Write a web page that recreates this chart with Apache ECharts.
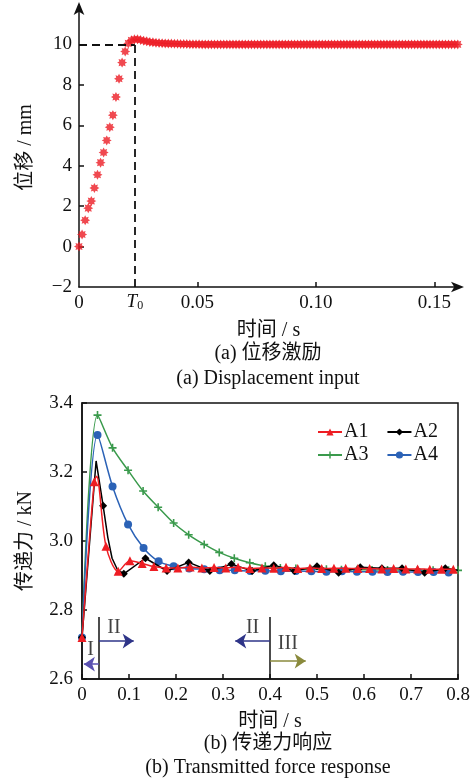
<!DOCTYPE html>
<html>
<head>
<meta charset="utf-8">
<script src="https://cdn.jsdelivr.net/npm/echarts@6/dist/echarts.min.js"></script>
<style>
html,body{margin:0;padding:0;background:#fff;}
#c{width:474px;height:779px;}
</style>
</head>
<body>
<div id="c"></div>
<script>
// ---- (a) displacement input ----
const dispTime = [0,0.0013,0.0026,0.0039,0.0052,0.0065,0.0078,0.0091,0.0104,0.0117,0.013,0.0143,0.0156,0.0169,0.0182,0.0195,
0.0208,0.0221,0.0234,0.0247,0.026,0.0273,0.0286,0.0299,0.0312,0.0325,0.0338,0.0351,0.0364,0.0377,0.039,0.0403,0.0416,0.0429,0.0442,0.0455,
0.0468,0.0481,0.0494,0.0507,0.052,0.0533,0.0546,0.0559,0.0572,0.0585,0.0598,0.0611,0.0624,0.0637,0.065,0.0663,0.0676,0.0689,0.0702,0.0715,
0.0728,0.0741,0.0754,0.0767,0.078,0.0793,0.0806,0.0819,0.0832,0.0845,0.0858,0.0871,0.0884,0.0897,0.091,0.0923,0.0936,0.0949,0.0962,0.0975,
0.0988,0.1001,0.1014,0.1027,0.104,0.1053,0.1066,0.1079,0.1092,0.1105,0.1118,0.1131,0.1144,0.1157,0.117,0.1183,0.1196,0.1209,0.1222,0.1235,
0.1248,0.1261,0.1274,0.1287,0.13,0.1313,0.1326,0.1339,0.1352,0.1365,0.1378,0.1391,0.1404,0.1417,0.143,0.1443,0.1456,0.1469,0.1482,0.1495,
0.1508,0.1521,0.1534,0.1547,0.156,0.1573,0.1586,0.1599];
const dispValue = [0,0.6,1.3,1.9,2.25,2.9,3.55,4.15,4.65,5.25,5.9,6.5,7.4,8.3,9.1,9.65,
10.05,10.2,10.25,10.25,10.22,10.18,10.15,10.12,10.1,10.08,10.07,10.06,10.05,10.04,10.04,10.03,10.03,10.02,10.02,10.02,
10.01,10.01,10.01,10.01,10,10,10,10,10,10,10,10,10,10,10,10,10,10,10,10,
10,10,10,10,10,10,10,10,10,10,10,10,10,10,10,10,10,10,10,10,
10,10,10,10,10,10,10,10,10,10,10,10,10,10,10,10,10,10,10,10,
10,10,10,10,10,10,10,10,10,10,10,10,10,10,10,10,10,10,10,10,
10,10,10,10,10,10,10,10];
const T0 = 0.0236;
const dispXTicks = [0,0.05,0.10,0.15];
const dispYTicks = [-2,0,2,4,6,8,10];

// ---- (b) transmitted force response ----
const a1Time  = [0,0.026,0.031,0.051,0.077,0.102,0.128,0.153,0.179,0.204,0.230,0.255,0.281,0.306,0.332,0.357,0.383,0.408,0.434,0.459,0.485,0.510,0.536,0.561,0.587,0.612,0.638,0.663,0.689,0.714,0.740,0.765,0.790];
const a1Force = [2.72,3.172,3.188,2.985,2.912,2.943,2.935,2.926,2.922,2.922,2.925,2.922,2.923,2.922,2.924,2.920,2.922,2.921,2.924,2.920,2.922,2.920,2.921,2.921,2.920,2.920,2.919,2.920,2.919,2.919,2.918,2.918,2.918];
const a1Mark  = [1,1,0,1,1,1,1,1,1,1,1,1,1,1,1,1,1,1,1,1,1,1,1,1,1,1,1,1,1,1,1,1,1];

const a2Time  = [0,0.030,0.045,0.055,0.064,0.075,0.089,0.135,0.181,0.227,0.272,0.318,0.362,0.408,0.452,0.500,0.546,0.592,0.638,0.681,0.729,0.773,0.800];
const a2Force = [2.72,3.232,3.102,3.010,2.950,2.918,2.905,2.950,2.913,2.938,2.913,2.933,2.913,2.930,2.913,2.927,2.908,2.924,2.921,2.921,2.908,2.921,2.915];
const a2Mark  = [1,0,1,0,0,0,1,1,1,1,1,1,1,1,1,1,1,1,1,1,1,1,0];

const a3Time  = [0,0.033,0.065,0.098,0.130,0.162,0.195,0.227,0.260,0.292,0.324,0.357,0.390,0.422,0.455,0.487,0.520,0.552,0.585,0.617,0.650,0.682,0.714,0.747,0.780,0.800];
const a3Force = [2.72,3.365,3.270,3.205,3.145,3.098,3.052,3.018,2.990,2.967,2.950,2.937,2.927,2.922,2.920,2.918,2.918,2.917,2.917,2.916,2.916,2.916,2.915,2.915,2.915,2.915];

const a4Time  = [0,0.033,0.065,0.098,0.131,0.163,0.195,0.228,0.260,0.293,0.325,0.358,0.390,0.423,0.455,0.488,0.520,0.553,0.585,0.618,0.650,0.683,0.715,0.748,0.780];
const a4Force = [2.72,3.307,3.158,3.048,2.980,2.941,2.927,2.920,2.918,2.915,2.915,2.913,2.914,2.912,2.913,2.912,2.911,2.912,2.911,2.911,2.910,2.911,2.910,2.910,2.909];

const seriesNames = ['A1','A2','A3','A4'];

// stage annotations (data coordinates)
const stageBounds = [0.036, 0.4];
const stageLabels = [
  {name:'I',   t:0.018, v:2.684},
  {name:'II',  t:0.068, v:2.748},
  {name:'II',  t:0.363, v:2.750},
  {name:'III', t:0.438, v:2.703}
];
const stageArrows = [
  {from:[0.036,2.643], to:[0.004,2.643], color:'#5a50b0'},
  {from:[0.036,2.710], to:[0.110,2.710], color:'#2e3488'},
  {from:[0.400,2.710], to:[0.326,2.710], color:'#2e3488'},
  {from:[0.400,2.652], to:[0.476,2.652], color:'#8a8a3c'}
];

const FONT = '"Liberation Serif", "Noto Sans CJK SC", serif';
const starPath = 'path://M10 5 L7.8 6.2 L8.54 8.54 L6.2 7.8 L5 10 L3.8 7.8 L1.46 8.54 L2.2 6.2 L0 5 L2.2 3.8 L1.46 1.46 L3.8 2.2 L5 0 L6.2 2.2 L8.54 1.46 L7.8 3.8 Z';
const plusPath = 'path://M4 0 H6 V4 H10 V6 H6 V10 H4 V6 H0 V4 H4 Z';

const chart = echarts.init(document.getElementById('c'), null, {renderer:'canvas'});

const axisTxt = {color:'#111', fontFamily:FONT, fontSize:19};
const nameTxt = {color:'#111', fontFamily:FONT, fontSize:20};

function mk(times, vals, marks){
  return times.map((t,i)=>{
    const d = {value:[t, vals[i]]};
    if (marks && !marks[i]) d.symbol = 'none';
    return d;
  });
}

const option = {
  animation:false,
  backgroundColor:'#fff',
  grid:[
    {left:79, right:16, top:8, bottom:492, containLabel:false},
    {left:82, right:16, top:403, bottom:100, show:true, borderColor:'#111', borderWidth:1.5, backgroundColor:'transparent'}
  ],
  xAxis:[
    {gridIndex:0, type:'value', min:0, max:0.16,
     name:'时间 / s', nameLocation:'middle', nameGap:34, nameTextStyle:nameTxt,
     axisLine:{show:true, onZero:false, symbol:['none','arrow'], symbolSize:[8,13], symbolOffset:[0,6], lineStyle:{color:'#111', width:1.5}},
     axisTick:{show:true, inside:true, length:5, customValues:[0.05,0.10,0.15], lineStyle:{color:'#111', width:1.5}},
     axisLabel:{customValues:dispXTicks, margin:7, ...axisTxt, formatter:v=> v===0?'0':v.toFixed(2)},
     splitLine:{show:false}},
    {gridIndex:1, type:'value', min:0, max:0.8, interval:0.1,
     name:'时间 / s', nameLocation:'middle', nameGap:33, nameTextStyle:nameTxt,
     axisLine:{show:true, onZero:false, lineStyle:{color:'#111', width:1.5}},
     axisTick:{show:true, inside:true, length:5, lineStyle:{color:'#111', width:1.5}},
     axisLabel:{margin:7, ...axisTxt, formatter:v=> v===0?'0':v.toFixed(1)},
     splitLine:{show:false}}
  ],
  yAxis:[
    {gridIndex:0, type:'value', min:-2, max:11.8,
     name:'位移 / mm', nameLocation:'middle', nameGap:43, nameTextStyle:nameTxt,
     axisLine:{show:true, onZero:false, symbol:['none','arrow'], symbolSize:[8,13], symbolOffset:[0,6], lineStyle:{color:'#111', width:1.5}},
     axisTick:{show:true, inside:true, length:5, customValues:[0,2,4,6,8,10], lineStyle:{color:'#111', width:1.5}},
     axisLabel:{customValues:dispYTicks, margin:7, ...axisTxt, formatter:v=> String(v).replace('-','\u2212')},
     splitLine:{show:false}},
    {gridIndex:1, type:'value', min:2.6, max:3.4, interval:0.2,
     name:'传递力 / kN', nameLocation:'middle', nameGap:46, nameTextStyle:nameTxt,
     axisLine:{show:true, onZero:false, lineStyle:{color:'#111', width:1.5}},
     axisTick:{show:true, inside:true, length:5, lineStyle:{color:'#111', width:1.5}},
     axisLabel:{margin:9, ...axisTxt, formatter:v=> v.toFixed(1)},
     splitLine:{show:false}}
  ],
  legend:[
    {data:[seriesNames[0], seriesNames[1]], left:312, top:417, itemWidth:24, itemHeight:9, itemGap:18,
     textStyle:{color:'#111', fontFamily:FONT, fontSize:20, padding:[0,0,0,-3]}, selectedMode:false},
    {data:[seriesNames[2], seriesNames[3]], left:312, top:440, itemWidth:24, itemHeight:9, itemGap:18,
     textStyle:{color:'#111', fontFamily:FONT, fontSize:20, padding:[0,0,0,-3]}, selectedMode:false}
  ],
  graphic:[
    {type:'text', x:268, y:354, style:{text:'(a) 位移激励', font:'20px '+FONT, fill:'#111', textAlign:'center', textVerticalAlign:'middle'}},
    {type:'text', x:268, y:379, style:{text:'(a) Displacement input', font:'20px '+FONT, fill:'#111', textAlign:'center', textVerticalAlign:'middle'}},
    {type:'text', x:268, y:744, style:{text:'(b) 传递力响应', font:'20px '+FONT, fill:'#111', textAlign:'center', textVerticalAlign:'middle'}},
    {type:'text', x:268, y:768, style:{text:'(b) Transmitted force response', font:'20px '+FONT, fill:'#111', textAlign:'center', textVerticalAlign:'middle'}}
  ],
  series:[
    {type:'scatter', xAxisIndex:0, yAxisIndex:0, name:'disp',
     data:dispTime.map((t,i)=>[t, dispValue[i]]),
     symbol:starPath, symbolSize:10, itemStyle:{color:'#ec1c24'}, clip:false, z:3,
     markLine:{silent:true, symbol:'none', animation:false,
       lineStyle:{color:'#111', type:[8,5], width:1.8},
       label:{show:false},
       data:[
         [{coord:[0,10]},{coord:[T0,10]}],
         [{coord:[T0,-2], label:{show:true, position:'start', distance:3,
             formatter:'{t|T}{s|0}',
             rich:{t:{fontFamily:FONT, fontStyle:'italic', fontSize:19, color:'#111', verticalAlign:'bottom', lineHeight:22},
                   s:{fontFamily:FONT, fontSize:12, color:'#111', verticalAlign:'bottom', lineHeight:16}}}},
          {coord:[T0,10]}]
       ]}},
    {type:'line', name:'A3', xAxisIndex:1, yAxisIndex:1, data:mk(a3Time,a3Force),
     smooth:0.3, symbol:plusPath, symbolSize:8, showAllSymbol:true,
     lineStyle:{color:'#3a9a4c', width:1.5}, itemStyle:{color:'#3a9a4c'}, z:2},
    {type:'line', name:'A4', xAxisIndex:1, yAxisIndex:1, data:mk(a4Time,a4Force),
     smooth:0.3, symbol:'circle', symbolSize:8, showAllSymbol:true,
     lineStyle:{color:'#2b62b6', width:1.5}, itemStyle:{color:'#2b62b6'}, z:3},
    {type:'line', name:'A2', xAxisIndex:1, yAxisIndex:1, data:mk(a2Time,a2Force,a2Mark),
     smooth:false, symbol:'diamond', symbolSize:8, showAllSymbol:true,
     lineStyle:{color:'#000', width:1.5}, itemStyle:{color:'#000'}, z:4},
    {type:'line', name:'A1', xAxisIndex:1, yAxisIndex:1, data:mk(a1Time,a1Force,a1Mark),
     smooth:0.3, symbol:'triangle', symbolSize:9, showAllSymbol:true,
     lineStyle:{color:'#ee1d23', width:1.5}, itemStyle:{color:'#ee1d23'}, z:5},
    {type:'scatter', xAxisIndex:1, yAxisIndex:1, name:'stages', silent:true,
     data:stageLabels.map(s=>({name:s.name, value:[s.t, s.v]})),
     symbolSize:2, itemStyle:{color:'rgba(0,0,0,0)'},
     label:{show:true, position:'inside', formatter:'{b}', color:'#111', fontFamily:FONT, fontSize:20},
     markLine:{silent:true, symbol:'none', animation:false, label:{show:false},
       lineStyle:{color:'#111', type:'solid', width:1.5},
       data:stageBounds.map(b=>[{coord:[b,2.6]},{coord:[b,2.78]}])}, z:6},
    {type:'scatter', xAxisIndex:1, yAxisIndex:1, name:'arrows', silent:true,
     data:stageArrows.map(a=>a.from), symbolSize:1, itemStyle:{color:'rgba(0,0,0,0)'},
     markLine:{silent:true, symbol:['none','arrow'], symbolSize:11, animation:false, label:{show:false},
       data:stageArrows.map(a=>[{coord:a.from, lineStyle:{color:a.color, width:1.5, type:'solid'}, itemStyle:{color:a.color}},{coord:a.to, itemStyle:{color:a.color}}])}, z:6}
  ]
};
chart.setOption(option);
</script>
</body>
</html>
